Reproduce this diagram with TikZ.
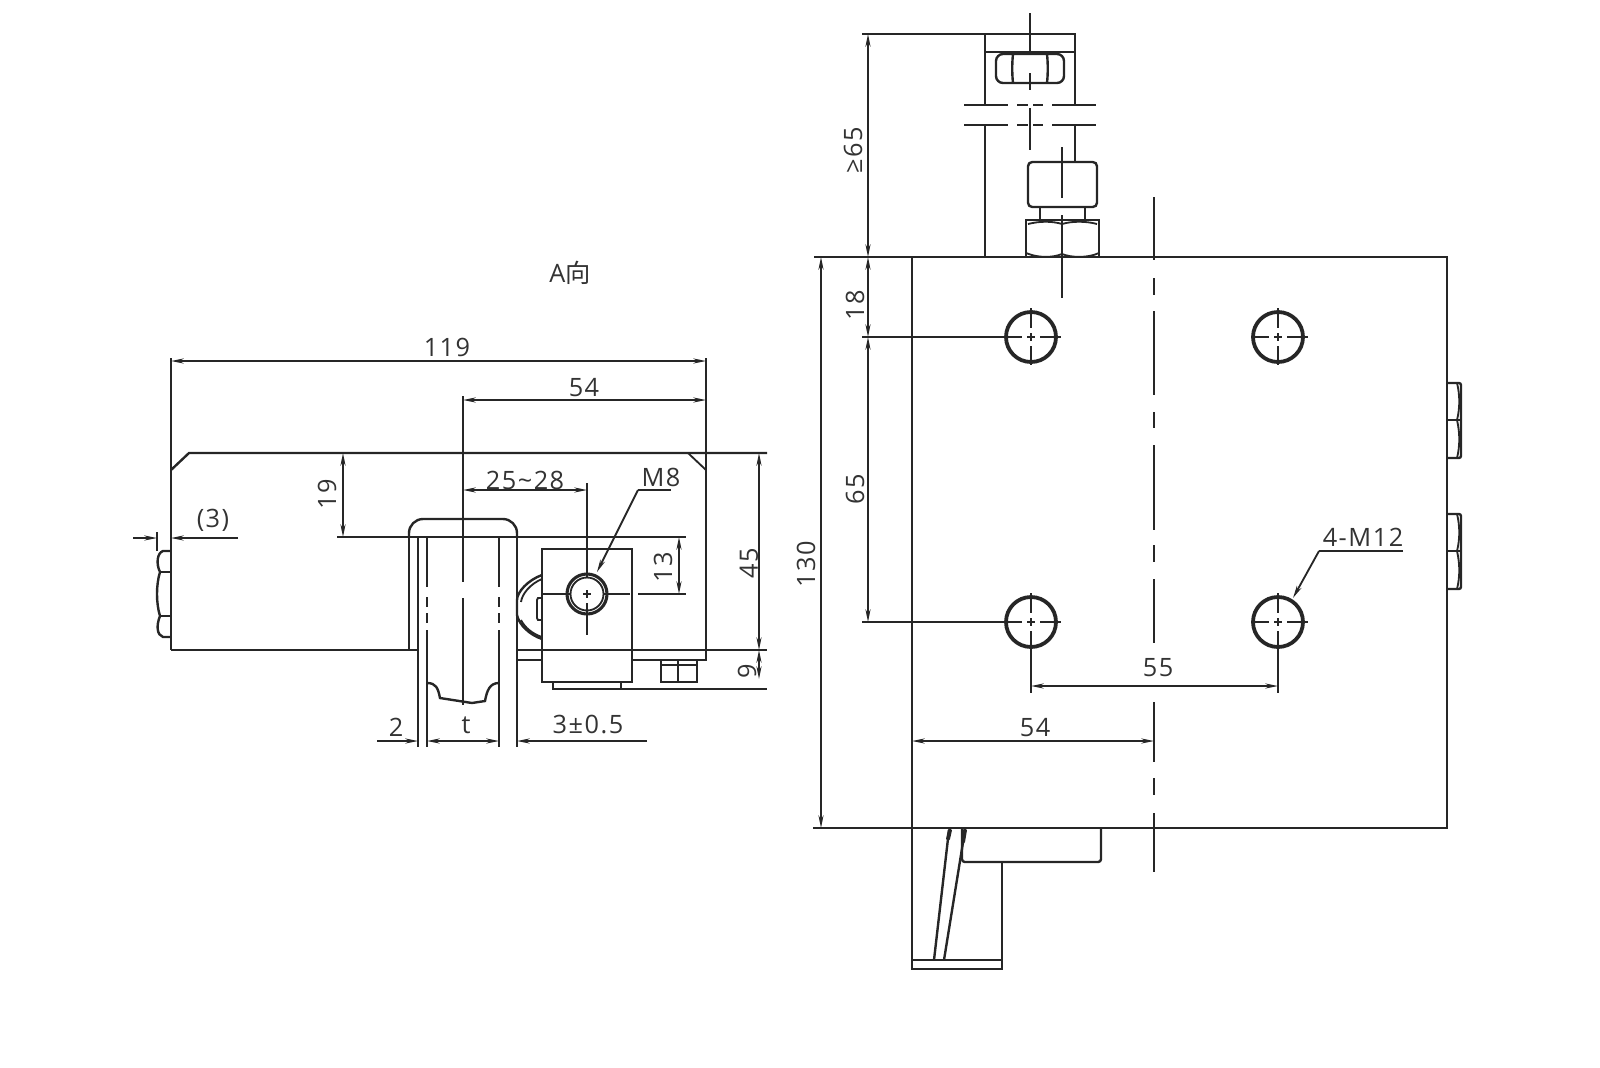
\documentclass[tikz,border=0pt]{standalone}
\usepackage{fontspec}
\setmainfont[LetterSpace=6]{Open Sans}
\newfontfamily\cjk{Noto Sans CJK SC}
\usetikzlibrary{arrows.meta}
\definecolor{ink}{gray}{0.15}
\definecolor{label}{gray}{0.2}
\tikzset{
  part/.style={draw=ink, line width=1.7pt},
  thin line/.style={draw=ink, line width=1.3pt},
  dim line/.style={draw=ink, line width=1.3pt, {Stealth[length=9pt,width=3.6pt]}-{Stealth[length=9pt,width=3.6pt]}},
  to tip/.style={draw=ink, line width=1.3pt, -{Stealth[length=9pt,width=3.6pt]}},
  dim text/.style={text=label, inner sep=0pt, font=\fontsize{18}{20}\selectfont},
}

\begin{document}
\begin{tikzpicture}[x=0.025cm, y=-0.025cm]
    \useasboundingbox (0,0) rectangle (1600,1067);
    % side view
    \draw [part] (171,358)--(171,650);
    \draw [part] (171,470)--(189,453)--(767,453);
    \draw [part] (706,358)--(706,660)--(632,660);
    \draw [thin line] (688,453)--(706,470);
    \draw [part] (171,650)--(409,650)--(409,537);
    \draw [part] (409,537)--(418,537) (409,650)--(418,650);
    \draw [part, rounded corners=10] (409,537)--(409,519)--(517,519)--(517,537);
    \draw [part] (517,530)--(517,747);
    \draw [part] (418,537)--(418,747);
    \draw [part] (427,537)--(427,587) (427,597)--(427,607) (427,613)--(427,623) (427,630)--(427,747);
    \draw [part] (499,537)--(499,587) (499,597)--(499,607) (499,613)--(499,623) (499,630)--(499,747);
    \draw [part] (427,683) .. controls (436,683) and (438,688) .. (440,698)--(472,703)--(485,701) .. controls (487,690) and (490,683) .. (499,683);
    \draw [thin line] (463,396)--(463,582) (463,598)--(463,705);
    \draw [thin line] (337,537)--(686,537);
    % left bolt on the body
    \draw [part] (171,551)--(163,551) .. controls (157,553) and (156,564) .. (160,572) .. controls (156,585) and (156,603) .. (160,616) .. controls (156,626) and (157,635) .. (163,637)--(171,637);
    \draw [thin line] (160,572)--(171,572) (160,616)--(171,616);
    % clamp block with M8 hole
    \draw [part] (542,549) rectangle (632,682);
    \draw [part] (553,682)--(553,689)--(621,689)--(621,682);
    \draw [thin line] (621,689)--(767,689);
    \draw [thin line] (517,650)--(767,650);
    \draw [part] (517,660)--(542,660);
    \draw [part] (542,575) .. controls (528,580) and (517,592) .. (517,600)--(517,615) .. controls (519,625) and (530,635) .. (542,639);
    \draw [thin line] (542,579) .. controls (530,584) and (522,594) .. (521,602) (521,620) .. controls (525,628) and (533,634) .. (542,637);
    \draw [thin line] (542,598)--(538,598)--(537,600)--(537,618)--(538,620)--(542,620);
    \draw [part, line width=2.2pt] (587,594) circle [radius=20];
    \draw [thin line] (587,594) circle [radius=16.5];
    \draw [thin line] (587,483)--(587,578) (587,590)--(587,598) (587,603)--(587,635);
    \draw [thin line] (542,594)--(570,594) (583,594)--(591,594) (604,594)--(630,594) (638,594)--(686,594);
    % bolts under the body
    \draw [thin line] (661,660)--(661,665)--(697,665)--(697,660) (678,660)--(678,682);
    \draw [part] (661,665) rectangle (697,682);
    % dimensions of the side view
    \draw [dim line] (171,361)--(706,361);
    \node (overall) at (447,347) [dim text]{119};
    \draw [dim line] (463,400)--(706,400);
    \node (offset) at (584,388) [dim text]{54};
    \draw [dim line] (463,490)--(587,490);
    \node (range) at (525,480) [dim text]{25\textasciitilde28};
    \draw [thin line] (157,532)--(157,551);
    \draw [to tip] (133,538)--(157,538);
    \draw [to tip] (238,538)--(171,538);
    \node (gap) at (213,520) [dim text]{(3)};
    \draw [dim line] (343,453)--(343,537);
    \node (upper) at (327,494) [dim text, rotate=90]{19};
    \draw [dim line] (679,537)--(679,594);
    \node (inner) at (663,567) [dim text, rotate=90]{13};
    \draw [dim line] (759,453)--(759,650);
    \node (height) at (749,563) [dim text, rotate=90]{45};
    \draw [dim line] (759,650)--(759,679);
    \node (foot) at (747,671) [dim text, rotate=90]{9};
    \draw [thin line] (671,490)--(638,490);
    \draw [to tip] (638,490)--(597,572);
    \node (thread) at (661,477) [dim text]{M8};
    \draw [to tip] (377,741)--(418,741);
    \node (wall) at (396,727) [dim text]{2};
    \draw [dim line] (427,741)--(499,741);
    \node (thick) at (466,725) [dim text]{t};
    \draw [to tip] (647,741)--(517,741);
    \node (play) at (588,724) [dim text]{3±0.5};
    \node (title) at (570,273) [dim text]{A{\cjk 向}};
    % front view
    \draw [part] (912,257)--(1447,257)--(1447,828)--(912,828)--cycle;
    \draw [thin line] (814,257)--(912,257) (813,828)--(912,828);
    \draw [part] (912,828)--(912,969)--(1002,969)--(1002,862);
    \draw [part] (912,960)--(1002,960);
    \draw [part, rounded corners=2] (962,828)--(962,862)--(1101,862)--(1101,828);
    \draw [part] (949,830)--(934,960) (965,830)--(944,960);
    \draw [line width=2.8pt, draw=ink, line cap=round] (950,830)--(948,839) (965,830)--(963,842);
    % holes
    \foreach \holex in {1031,1278}
      \foreach \holey in {337,622} {
        \draw [part, line width=2.7pt] (\holex,\holey) circle [radius=25];
        \draw [thin line] (\holex-26,\holey)--(\holex-9,\holey) (\holex-4,\holey)--(\holex+4,\holey) (\holex+9,\holey)--(\holex+30,\holey);
        \draw [thin line] (\holex,\holey-29)--(\holex,\holey-9) (\holex,\holey-4)--(\holex,\holey+4) (\holex,\holey+9)--(\holex,\holey+28);
      }
    % bolts on the right edge
    \foreach \bolty in {383,514} {
      \draw [part, rounded corners=1.5] (1447,\bolty)--(1461,\bolty)--(1461,\bolty+75)--(1447,\bolty+75);
      \draw [thin line] (1457,\bolty) .. controls (1460,\bolty+12) and (1460,\bolty+25) .. (1457,\bolty+37) .. controls (1460,\bolty+50) and (1460,\bolty+63) .. (1457,\bolty+75);
      \draw [thin line] (1447,\bolty+37)--(1460,\bolty+37);
    }
    % centre line of the front view
    \draw [thin line] (1154,197)--(1154,260) (1154,278)--(1154,295) (1154,311)--(1154,395) (1154,412)--(1154,428) (1154,445)--(1154,530) (1154,545)--(1154,562) (1154,579)--(1154,643) (1154,702)--(1154,762) (1154,778)--(1154,795) (1154,813)--(1154,872);
    % rod and fitting on top
    \draw [part] (985,257)--(985,125) (985,105)--(985,34)--(1075,34)--(1075,105) (1075,125)--(1075,162);
    \draw [part] (985,52)--(1075,52);
    \draw [thin line] (862,34)--(985,34);
    \draw [part, rounded corners=5] (996,54) rectangle (1064,83);
    \draw [part] (1013,54) .. controls (1012,63) and (1012,74) .. (1013,83) (1047,54) .. controls (1048,63) and (1048,74) .. (1047,83);
    \draw [part] (964,105)--(1008,105) (1017,105)--(1028,105) (1033,105)--(1043,105) (1052,105)--(1096,105);
    \draw [part] (964,125)--(1008,125) (1017,125)--(1028,125) (1033,125)--(1043,125) (1052,125)--(1096,125);
    \draw [thin line] (1030,13)--(1030,53) (1030,73)--(1030,90) (1030,108)--(1030,150);
    \draw [part, rounded corners=3] (1028,162) rectangle (1097,207);
    \draw [part] (1040,207)--(1040,220) (1085,207)--(1085,220);
    \draw [part] (1026,257)--(1026,220)--(1099,220)--(1099,257);
    \draw [thin line] (1028,224) .. controls (1040,221) and (1052,221) .. (1062,224) .. controls (1072,221) and (1086,221) .. (1097,224);
    \draw [thin line] (1026,253) .. controls (1038,258) and (1052,258) .. (1062,254) .. controls (1072,258) and (1088,258) .. (1099,253);
    \draw [thin line] (1062,147)--(1062,198) (1062,215)--(1062,298);
    % dimensions of the front view
    \draw [dim line] (868,34)--(868,257);
    \node (rod) at (853,150) [dim text, rotate=90]{≥65};
    \draw [dim line] (868,257)--(868,337);
    \node (first) at (855,305) [dim text, rotate=90]{18};
    \draw [dim line] (868,337)--(868,622);
    \node (pitchv) at (855,489) [dim text, rotate=90]{65};
    \draw [thin line] (862,337)--(1005,337) (862,622)--(1005,622);
    \draw [dim line] (821,257)--(821,828);
    \node (total) at (806,564) [dim text, rotate=90]{130};
    \draw [thin line] (1031,650)--(1031,693) (1278,650)--(1278,693);
    \draw [dim line] (1031,686)--(1278,686);
    \node (pitchh) at (1158,668) [dim text]{55};
    \draw [dim line] (912,741)--(1154,741);
    \node (middle) at (1035,728) [dim text]{54};
    \draw [thin line] (1403,551)--(1319,551);
    \draw [to tip] (1319,551)--(1293,598);
    \node (thread2) at (1363,537) [dim text]{4-M12};
  \end{tikzpicture}
\end{document}
